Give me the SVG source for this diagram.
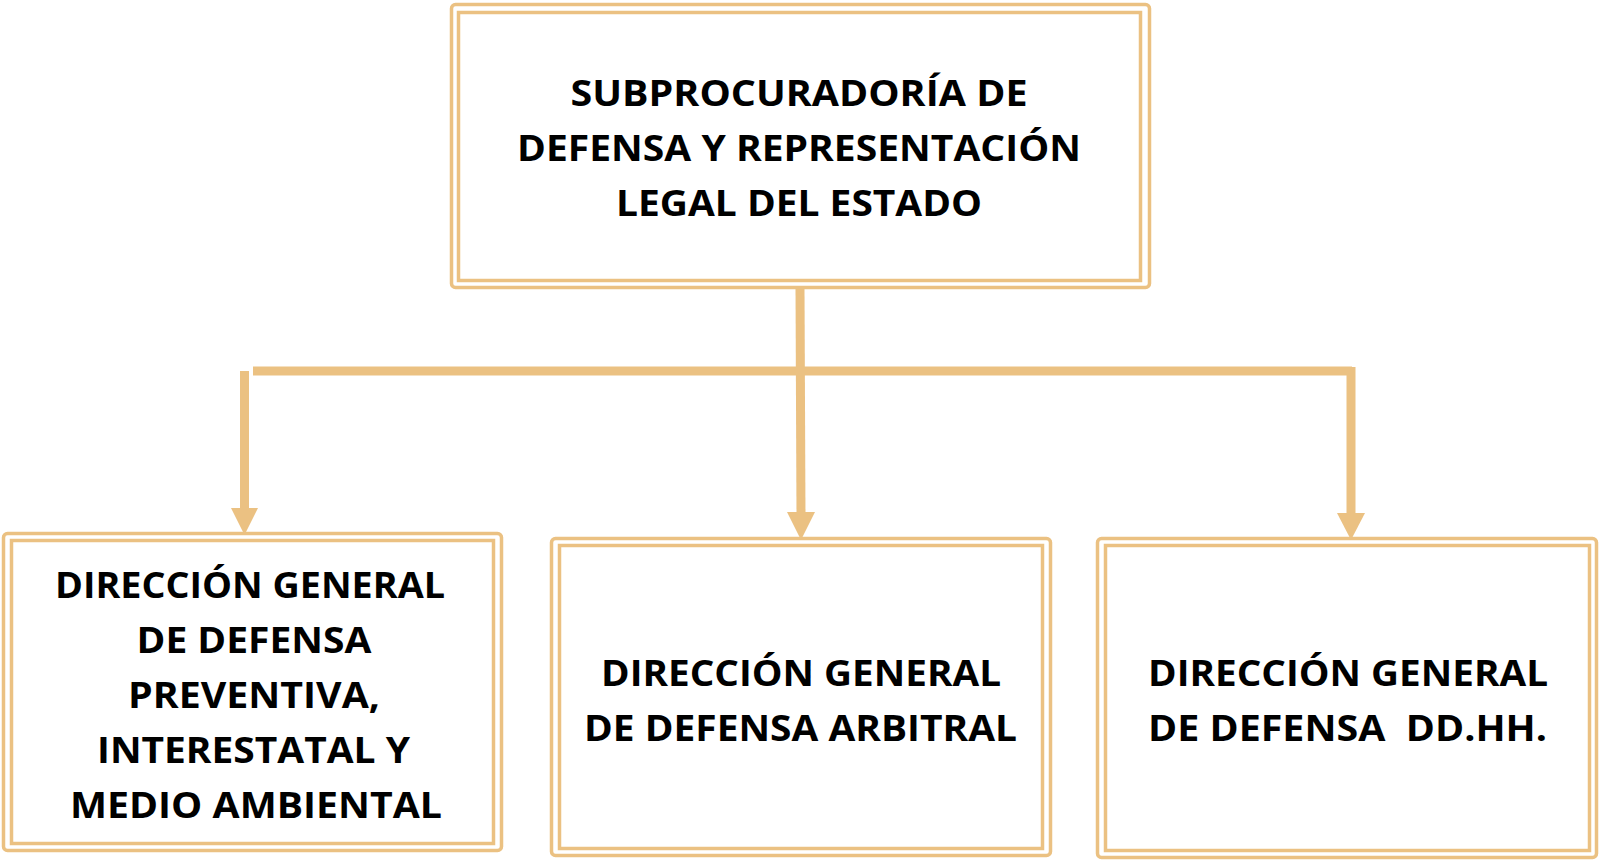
<svg xmlns="http://www.w3.org/2000/svg" width="1600" height="861" viewBox="0 0 1600 861">
<style>
.o{fill:none;stroke:#EBC182;stroke-width:3.5}
.i{fill:none;stroke:#EBC182;stroke-width:3.5}
.t{font-family:"Open Sans","Liberation Sans",sans-serif;font-weight:700;font-size:35px;fill:#000;text-anchor:middle;white-space:pre}
.c{stroke:#EBC182;stroke-width:9;fill:none}
.h{fill:#EBC182}
</style>
<rect width="1600" height="861" fill="#fff"/>
<g id="connectors">
<line class="c" x1="800" y1="288" x2="801" y2="515"/>
<line class="c" x1="253" y1="371" x2="1352" y2="371" stroke-width="8"/>
<line class="c" x1="244.5" y1="371" x2="244.5" y2="510"/>
<line class="c" x1="1351" y1="367" x2="1351" y2="515"/>
<polygon class="h" points="787,512 815,512 801,540"/>
<polygon class="h" points="231,508 258,508 244.5,535"/>
<polygon class="h" points="1337,513 1365,513 1351,540"/>
</g>
<g id="top">
<rect class="o" x="451.5" y="4.5" width="698" height="283" rx="4"/>
<rect class="i" x="458.5" y="12.5" width="682" height="268"/>
<text class="t" x="799" y="106" textLength="457" lengthAdjust="spacingAndGlyphs">SUBPROCURADORÍA DE</text>
<text class="t" x="799" y="161" textLength="564" lengthAdjust="spacingAndGlyphs">DEFENSA Y REPRESENTACIÓN</text>
<text class="t" x="799" y="216" textLength="366" lengthAdjust="spacingAndGlyphs">LEGAL DEL ESTADO</text>
</g>
<g id="left">
<rect class="o" x="3.5" y="533.5" width="498" height="317" rx="4"/>
<rect class="i" x="11.5" y="540.5" width="482" height="303"/>
<text class="t" x="250" y="598" textLength="390" lengthAdjust="spacingAndGlyphs">DIRECCIÓN GENERAL</text>
<text class="t" x="254" y="653" textLength="235" lengthAdjust="spacingAndGlyphs">DE DEFENSA</text>
<text class="t" x="254" y="708" textLength="252" lengthAdjust="spacingAndGlyphs">PREVENTIVA,</text>
<text class="t" x="253.5" y="763" textLength="313" lengthAdjust="spacingAndGlyphs">INTERESTATAL Y</text>
<text class="t" x="256" y="818" textLength="372" lengthAdjust="spacingAndGlyphs">MEDIO AMBIENTAL</text>
</g>
<g id="middle">
<rect class="o" x="551.5" y="538.5" width="499" height="317" rx="4"/>
<rect class="i" x="559.5" y="545.5" width="483" height="303"/>
<text class="t" x="801" y="686" textLength="400" lengthAdjust="spacingAndGlyphs">DIRECCIÓN GENERAL</text>
<text class="t" x="800.5" y="741" textLength="433" lengthAdjust="spacingAndGlyphs">DE DEFENSA ARBITRAL</text>
</g>
<g id="right">
<rect class="o" x="1097.5" y="538.5" width="499" height="319" rx="4"/>
<rect class="i" x="1105.5" y="545.5" width="484" height="305"/>
<text class="t" x="1348" y="686" textLength="400" lengthAdjust="spacingAndGlyphs">DIRECCIÓN GENERAL</text>
<text class="t" x="1347.5" y="741" textLength="399" lengthAdjust="spacingAndGlyphs">DE DEFENSA  DD.HH.</text>
</g>
</svg>
